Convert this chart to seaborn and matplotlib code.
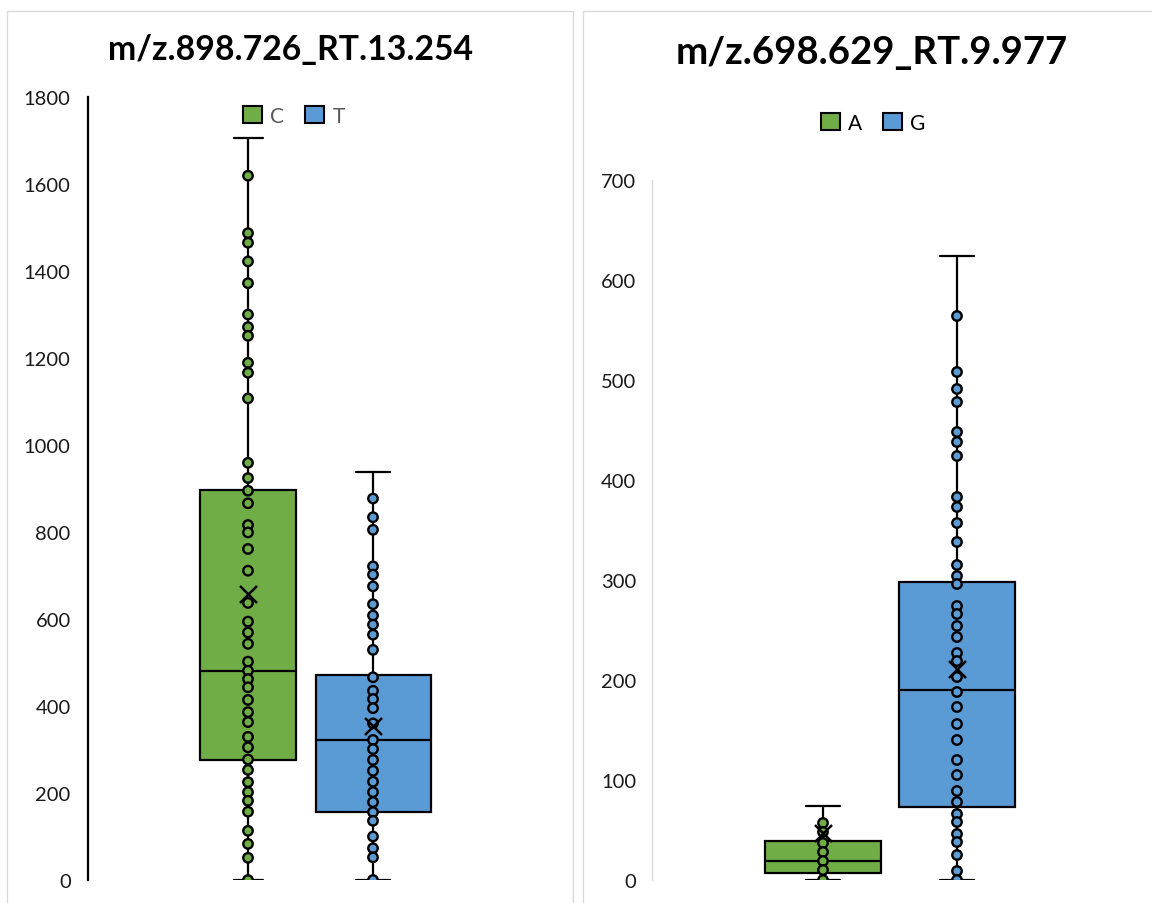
import matplotlib
matplotlib.use("Agg")
import matplotlib.pyplot as plt
from matplotlib.patches import Rectangle, Patch
import numpy as np
import pandas as pd
import seaborn as sns

# ---- data -----------------------------------------------------------------
left_title = "m/z.898.726_RT.13.254"
right_title = "m/z.698.629_RT.9.977"
left_groups = ["C", "T"]
right_groups = ["A", "G"]

C_values = [1619, 1487, 1465, 1422, 1372, 1300, 1271, 1251, 1189, 1166, 1107,
            959, 924, 895, 866, 816, 799, 761, 711, 637, 594, 569, 543, 502,
            481, 462, 443, 414, 386, 363, 329, 305, 277, 253, 225, 202, 182,
            157, 113, 83, 51, 0]
T_values = [877, 834, 805, 721, 702, 675, 634, 608, 587, 564, 529, 466, 435,
            416, 395, 360, 322, 301, 276, 251, 226, 202, 179, 156, 136, 100,
            73, 52, 0]
A_values = [57, 48, 37, 28, 19, 10, 0]
G_values = [564, 508, 491, 478, 448, 438, 424, 383, 373, 357, 338, 315, 304,
            296, 274, 266, 254, 243, 227, 219, 203, 188, 173, 156, 140, 120,
            105, 89, 78, 66, 58, 46, 38, 25, 9, 0]

# box summaries (order: C, T, A, G)
box_whislo = [0, 0, 0, 0]
box_q1 = [277, 157, 7, 73]
box_med = [481, 322, 19, 190]
box_q3 = [897, 471, 39, 298]
box_whishi = [1705, 939, 74, 624]
box_mean = [657, 355, 47, 211]

left_ticks = [0, 200, 400, 600, 800, 1000, 1200, 1400, 1600, 1800]
right_ticks = [0, 100, 200, 300, 400, 500, 600, 700]

# ---- style ----------------------------------------------------------------
sns.set_theme(style="white")
plt.rcParams["font.family"] = ["Lato", "DejaVu Sans"]

GREEN = "#70AD47"
BLUE = "#5B9BD5"
W, H = 1152, 904

fig = plt.figure(figsize=(W / 100, H / 100), dpi=100)
fig.patch.set_facecolor("white")


def fx(px):
    return px / W


def fy(py):
    return 1 - py / H


# chart borders
fig.add_artist(Rectangle((fx(7), fy(930)), fx(566), (930 - 12) / H,
                         transform=fig.transFigure, fill=False,
                         edgecolor="#d9d9d9", lw=1.0))
fig.add_artist(Rectangle((fx(583), fy(930)), fx(600), (930 - 12) / H,
                         transform=fig.transFigure, fill=False,
                         edgecolor="#d9d9d9", lw=1.0))


def panel(ax_rect, groups, values, idx, colors, ymax, ticks, widths, capw,
          xlim, spine_color, spine_lw, tick_pad):
    ax = fig.add_axes(ax_rect)
    df = pd.DataFrame({
        "group": np.repeat(groups, [len(v) for v in values]),
        "value": np.concatenate(values),
    })
    stats = []
    for i in idx:
        stats.append(dict(whislo=box_whislo[i], q1=box_q1[i], med=box_med[i],
                          q3=box_q3[i], whishi=box_whishi[i], fliers=[]))
    bp = ax.bxp(stats, positions=[0, 1], widths=widths, capwidths=capw,
                patch_artist=True, showfliers=False, manage_ticks=False,
                boxprops=dict(edgecolor="black", linewidth=1.6),
                whiskerprops=dict(color="black", linewidth=1.6),
                capprops=dict(color="black", linewidth=1.6),
                medianprops=dict(color="black", linewidth=1.6))
    for patch, c in zip(bp["boxes"], colors):
        patch.set_facecolor(c)
    sns.stripplot(data=df, x="group", y="value", hue="group", order=groups,
                  hue_order=groups, palette=colors, jitter=False, size=6.8,
                  linewidth=1.7, edgecolor="black", legend=False, ax=ax)
    for coll in ax.collections:
        coll.set_zorder(4)
    ax.scatter([0, 1], [box_mean[i] for i in idx], marker="x", s=150,
               color="black", linewidths=1.8, zorder=6)
    ax.set_xlim(*xlim)
    ax.set_ylim(0, ymax)
    ax.set_yticks(ticks)
    ax.set_yticklabels([str(t) for t in ticks], fontsize=14.5, color="#1a1a1a")
    ax.tick_params(axis="y", length=0, pad=tick_pad)
    ax.set_xticks([])
    ax.set_xlabel("")
    ax.set_ylabel("")
    for s in ["top", "right", "bottom"]:
        ax.spines[s].set_visible(False)
    ax.spines["left"].set_color(spine_color)
    ax.spines["left"].set_linewidth(spine_lw)
    ax.patch.set_alpha(0)
    return ax


# left chart: plot area 88..533 px, 98..881 px
panel([fx(88), fy(881), fx(533 - 88), (881 - 98) / H],
      left_groups, [C_values, T_values], [0, 1], [GREEN, BLUE], 1800,
      left_ticks, [0.77, 0.92], [0.232, 0.272],
      ((88 - 248) / 125, (533 - 248) / 125), "black", 1.6, 12.5)

# right chart: plot area 652..1128 px, 181..881 px
panel([fx(652), fy(881), fx(1128 - 652), (881 - 181) / H],
      right_groups, [A_values, G_values], [2, 3], [GREEN, BLUE], 700,
      right_ticks, [0.866, 0.866], [0.254, 0.254],
      ((652 - 823) / 134, (1128 - 823) / 134), "#d9d9d9", 1.0, 11.5)

# titles
fig.text(fx(290), fy(50), left_title, ha="center", va="center",
         fontsize=24.3, fontweight="bold", color="black")
fig.text(fx(872), fy(53), right_title, ha="center", va="center",
         fontsize=27.6, fontweight="bold", color="black")

# legends
for labels, cx, cy, tcol in [(left_groups, 294, 117, "#595959"),
                             (right_groups, 873, 124, "black")]:
    handles = [Patch(facecolor=c, edgecolor="black", linewidth=1.5)
               for c in (GREEN, BLUE)]
    leg = fig.legend(handles, labels, loc="center", ncol=2,
                     bbox_to_anchor=(fx(cx), fy(cy)), frameon=False,
                     fontsize=15, handlelength=0.9, handleheight=0.9,
                     handletextpad=0.4, columnspacing=1.0)
    for t in leg.get_texts():
        t.set_color(tcol)

fig.savefig("out.png", dpi=100)
